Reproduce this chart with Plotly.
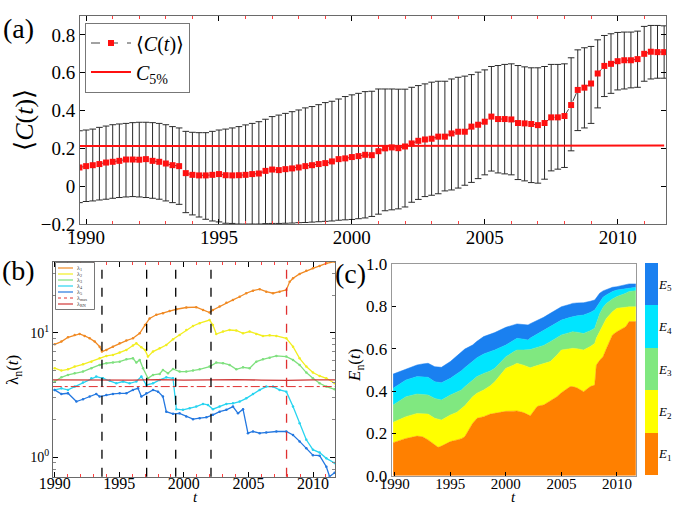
import plotly.graph_objects as go

W, H = 685, 505
SERIF = "Liberation Serif, DejaVu Serif, Times New Roman, serif"

# ---------------- panel (a) data: quarterly mean correlation ----------------
t_start, n_q = 1989.75, 89
t_a = [t_start + 0.25 * i for i in range(n_q)]
mean_c = [0.099, 0.106, 0.111, 0.117, 0.125, 0.129, 0.134, 0.141, 0.141, 0.140, 0.143, 0.134, 0.129, 0.120, 0.111, 0.106, 0.069, 0.060, 0.057, 0.057, 0.060, 0.064, 0.058,
          0.057, 0.058, 0.060, 0.064, 0.067, 0.081, 0.088, 0.085, 0.090, 0.094, 0.099, 0.106, 0.111, 0.117, 0.122, 0.131, 0.143, 0.147, 0.154, 0.159, 0.166, 0.164, 0.185,
          0.200, 0.205, 0.201, 0.210, 0.226, 0.240, 0.247, 0.251, 0.262, 0.262, 0.279, 0.288, 0.288, 0.315, 0.325, 0.341, 0.368, 0.355, 0.355, 0.353, 0.334, 0.332,
          0.329, 0.323, 0.334, 0.364, 0.364, 0.371, 0.429, 0.509, 0.521, 0.543, 0.596, 0.636, 0.647, 0.661, 0.666, 0.666, 0.672, 0.700, 0.711, 0.709, 0.709]
upper_c = [0.293, 0.297, 0.302, 0.311, 0.318, 0.325, 0.329, 0.332, 0.336, 0.338, 0.338, 0.336, 0.332, 0.325, 0.315, 0.308, 0.290, 0.285, 0.283, 0.283, 0.290, 0.297, 0.302,
           0.308, 0.315, 0.324, 0.332, 0.341, 0.354, 0.368, 0.376, 0.385, 0.394, 0.403, 0.414, 0.421, 0.431, 0.442, 0.449, 0.461, 0.474, 0.483, 0.491, 0.500, 0.502, 0.514,
           0.514, 0.514, 0.513, 0.513, 0.523, 0.532, 0.541, 0.550, 0.555, 0.555, 0.567, 0.576, 0.582, 0.590, 0.603, 0.615, 0.633, 0.638, 0.644, 0.647, 0.638, 0.631,
           0.626, 0.626, 0.633, 0.644, 0.644, 0.647, 0.679, 0.721, 0.732, 0.739, 0.774, 0.797, 0.806, 0.813, 0.815, 0.815, 0.820, 0.845, 0.850, 0.850, 0.848]
lower_c = [-0.087, -0.081, -0.078, -0.073, -0.069, -0.064, -0.060, -0.057, -0.055, -0.057, -0.060, -0.064, -0.069, -0.078, -0.087, -0.096, -0.140, -0.152, -0.163, -0.175, -0.184, -0.189, -0.196,
           -0.197, -0.200, -0.200, -0.200, -0.200, -0.198, -0.197, -0.197, -0.196, -0.195, -0.193, -0.192, -0.190, -0.188, -0.186, -0.184, -0.180, -0.178, -0.176, -0.172, -0.168, -0.160, -0.148,
           -0.130, -0.125, -0.120, -0.110, -0.085, -0.070, -0.055, -0.048, -0.040, -0.025, -0.020, -0.010, 0.005, 0.020, 0.040, 0.060, 0.080, 0.070, 0.065, 0.060, 0.035, 0.028,
           0.019, 0.016, 0.037, 0.081, 0.090, 0.099, 0.187, 0.294, 0.308, 0.332, 0.414, 0.474, 0.491, 0.509, 0.514, 0.520, 0.523, 0.555, 0.567, 0.571, 0.571]
c5 = [0.212, 0.212, 0.213, 0.213, 0.213, 0.214, 0.213, 0.213, 0.212, 0.212, 0.213, 0.213, 0.213, 0.212, 0.212, 0.212, 0.212, 0.213, 0.213, 0.212, 0.212, 0.213, 0.213,
      0.213, 0.213, 0.213, 0.213, 0.212, 0.212, 0.213, 0.213, 0.213, 0.213, 0.213, 0.212, 0.212, 0.212, 0.213, 0.213, 0.213, 0.212, 0.213, 0.213, 0.213, 0.212, 0.213,
      0.213, 0.214, 0.214, 0.213, 0.213, 0.213, 0.214, 0.214, 0.213, 0.213, 0.213, 0.213, 0.214, 0.214, 0.214, 0.213, 0.213, 0.213, 0.214, 0.214, 0.214, 0.213,
      0.213, 0.213, 0.213, 0.214, 0.214, 0.214, 0.213, 0.214, 0.215, 0.215, 0.215, 0.215, 0.215, 0.215, 0.215, 0.215, 0.216, 0.216, 0.216, 0.215, 0.215]

# ---------------- panel (b) data: eigenvalues ----------------
t_l1 = [1990.00, 1990.52, 1991.03, 1991.55, 1991.93, 1992.32, 1992.71, 1993.10, 1993.48, 1993.66, 1994.00, 1994.51, 1995.03, 1995.55, 1996.06, 1996.58,
        1996.99, 1997.35, 1997.87, 1998.38, 1998.90, 1999.42, 2000.19, 2000.96, 2001.48, 2001.99, 2002.25, 2002.77, 2003.29, 2003.80, 2004.32, 2004.83,
        2005.35, 2005.87, 2006.38, 2006.90, 2007.41, 2007.93, 2008.19, 2008.45, 2008.96, 2009.48, 2009.99, 2010.51, 2011.03, 2011.67]
lam1 = [8.06, 8.47, 9.18, 9.58, 9.75, 9.40, 9.01, 8.47, 7.72, 7.04, 7.26, 7.72, 8.21, 8.63, 9.01, 9.88,
        11.5, 13.0, 13.9, 14.3, 14.9, 15.4, 15.9, 16.0, 15.2, 14.5, 15.2, 16.2, 17.4, 18.3, 19.4, 20.7,
        21.7, 22.3, 21.3, 20.7, 21.3, 22.0, 25.6, 27.3, 29.6, 31.4, 32.8, 34.3, 36.0, 37.1]
t_l2 = [1990.00, 1990.52, 1991.03, 1991.55, 1992.19, 1992.84, 1993.48, 1994.00, 1994.51, 1995.03, 1995.55, 1996.06, 1996.32, 1996.71, 1996.99,
        1997.22, 1997.61, 1998.13, 1998.64, 1999.16, 1999.67, 2000.19, 2000.71, 2001.22, 2001.99, 2002.25, 2002.51, 2003.03, 2003.54, 2004.06,
        2004.58, 2005.09, 2005.61, 2006.12, 2006.64, 2007.16, 2007.93, 2008.45, 2008.96, 2009.48, 2009.99, 2010.51, 2011.03, 2011.67]
lam2 = [5.18, 4.96, 5.08, 5.34, 5.57, 5.85, 6.22, 6.50, 6.62, 6.92, 7.26, 7.87, 8.21, 7.63, 7.26,
        6.42, 7.04, 7.48, 7.96, 8.85, 9.58, 10.5, 11.3, 11.9, 12.6, 11.5, 9.75, 10.2, 10.5, 10.4,
        9.88, 10.2, 9.75, 9.40, 9.52, 9.40, 9.01, 7.72, 6.22, 5.34, 4.78, 4.49, 4.30, 3.92]
t_l3 = [1990.00, 1990.52, 1991.03, 1991.55, 1992.19, 1992.84, 1993.48, 1994.00, 1994.51, 1995.03, 1995.55, 1996.06, 1996.32, 1996.58, 1996.84,
        1997.22, 1997.61, 1998.13, 1998.38, 1998.77, 1999.16, 1999.67, 2000.19, 2000.71, 2001.22, 2001.99, 2002.51, 2003.03, 2003.54, 2004.06,
        2004.58, 2005.09, 2005.61, 2006.12, 2006.64, 2007.16, 2007.93, 2008.45, 2008.96, 2009.48, 2009.99, 2010.51, 2011.03, 2011.67]
lam3 = [4.05, 4.38, 4.58, 4.72, 4.87, 5.18, 5.51, 5.68, 5.75, 5.85, 6.11, 6.22, 5.75, 6.04, 5.18,
        4.30, 4.58, 4.66, 5.02, 4.72, 5.11, 4.87, 4.87, 4.96, 5.08, 5.34, 5.75, 5.68, 5.51, 5.08,
        5.27, 5.18, 5.85, 6.11, 6.30, 6.50, 6.42, 6.04, 5.51, 4.78, 4.30, 3.92, 3.69, 3.51]
t_l4 = [1990.00, 1990.52, 1991.03, 1991.55, 1992.19, 1992.84, 1993.22, 1993.74, 1994.26, 1994.77, 1995.29, 1995.80, 1996.32, 1996.71, 1997.10,
        1997.61, 1998.13, 1998.64, 1999.16, 1999.42, 1999.93, 2000.45, 2000.96, 2001.48, 2001.87, 2002.25, 2002.77, 2003.29, 2003.80, 2004.32,
        2004.83, 2005.35, 2005.87, 2006.38, 2006.90, 2007.41, 2007.93, 2008.45, 2008.96, 2009.48, 2009.99, 2010.51, 2011.03, 2011.67]
lam4 = [3.47, 3.57, 3.47, 3.69, 3.97, 4.30, 4.44, 4.30, 4.12, 3.92, 4.05, 3.92, 4.05, 4.44, 3.80,
        3.92, 4.17, 4.38, 4.30, 2.43, 2.40, 2.47, 2.55, 2.68, 2.63, 2.43, 2.55, 2.68, 2.71, 2.80,
        2.97, 3.22, 3.47, 3.69, 3.69, 3.47, 3.36, 2.55, 1.87, 1.38, 1.15, 1.09, 0.98, 0.90]
t_l5 = [1990.00, 1990.52, 1991.03, 1991.68, 1992.19, 1992.71, 1993.22, 1993.48, 1994.00, 1994.51, 1995.03, 1995.55, 1996.06, 1996.45, 1996.71,
        1997.10, 1997.61, 1998.00, 1998.38, 1998.64, 1999.16, 1999.67, 2000.19, 2000.71, 2001.22, 2001.74, 2002.25, 2002.77, 2003.29, 2003.80,
        2004.19, 2004.58, 2004.96, 2005.35, 2005.87, 2006.38, 2007.16, 2007.93, 2008.45, 2008.96, 2009.48, 2009.99, 2010.51, 2011.03, 2011.28, 2011.67]
lam5 = [3.47, 3.22, 3.26, 2.80, 2.92, 3.07, 3.22, 3.07, 3.16, 3.22, 3.26, 3.26, 3.47, 3.57, 3.07,
        3.26, 3.47, 3.36, 3.07, 2.32, 2.23, 2.25, 2.12, 2.02, 2.06, 2.09, 2.19, 2.32, 2.40, 2.55,
        2.25, 2.43, 1.56, 1.61, 1.56, 1.58, 1.61, 1.61, 1.51, 1.34, 1.18, 1.04, 1.03, 0.84, 0.70, 0.75]
t_ref = [1989.85, 1992.0, 1994.0, 1996.0, 1998.0, 2000.0, 2002.0, 2004.0, 2006.0, 2008.0, 2010.0, 2011.7]
lam_max = [3.69, 3.69, 3.69, 3.69, 3.69, 3.69, 3.69, 3.69, 3.69, 3.69, 3.69, 3.69]
lam_rn = [4.17, 4.15, 4.18, 4.16, 4.19, 4.15, 4.17, 4.20, 4.16, 4.14, 4.18, 4.17]
event_dates = [1993.66, 1997.12, 1999.37, 2002.10]
crisis_dates = [2007.95]
lam_names = ["λ<sub>1</sub>", "λ<sub>2</sub>", "λ<sub>3</sub>", "λ<sub>4</sub>", "λ<sub>5</sub>",
             "λ<sub>max</sub>", "λ<sub>RN</sub>"]

# ---------------- panel (c) data: cumulative explained variance ----------------
t_c = [1989.85, 1991.0, 1992.0, 1992.5, 1993.0, 1993.6, 1993.9, 1994.2, 1995.0, 1995.6, 1996.0, 1996.3, 1997.0, 1997.4, 1998.0,
       1998.6, 1999.0, 2000.0, 2000.7, 2001.0, 2001.6, 2002.0, 2002.2, 2002.8, 2003.0, 2003.4, 2004.0, 2004.6, 2005.0, 2005.8,
       2006.0, 2006.4, 2007.0, 2007.6, 2008.0, 2008.15, 2008.45, 2008.75, 2009.05, 2009.6, 2010.0, 2010.8, 2011.1, 2011.7]
E1 = [0.156, 0.176, 0.187, 0.184, 0.169, 0.145, 0.134, 0.140, 0.161, 0.169, 0.175, 0.184, 0.247, 0.271, 0.279,
      0.291, 0.295, 0.304, 0.305, 0.306, 0.298, 0.290, 0.283, 0.326, 0.330, 0.334, 0.354, 0.373, 0.392, 0.421,
      0.421, 0.415, 0.397, 0.421, 0.428, 0.523, 0.545, 0.562, 0.600, 0.665, 0.680, 0.704, 0.728, 0.728]
E2 = [0.252, 0.279, 0.294, 0.293, 0.291, 0.271, 0.266, 0.263, 0.287, 0.300, 0.318, 0.330, 0.373, 0.390, 0.405,
      0.425, 0.444, 0.507, 0.523, 0.531, 0.522, 0.515, 0.510, 0.520, 0.523, 0.528, 0.539, 0.570, 0.594, 0.600,
      0.602, 0.600, 0.594, 0.610, 0.625, 0.650, 0.680, 0.715, 0.743, 0.775, 0.791, 0.796, 0.798, 0.798]
E3 = [0.334, 0.373, 0.386, 0.384, 0.381, 0.365, 0.360, 0.357, 0.381, 0.395, 0.405, 0.420, 0.452, 0.468, 0.483,
      0.495, 0.507, 0.562, 0.585, 0.594, 0.594, 0.594, 0.596, 0.606, 0.609, 0.615, 0.633, 0.652, 0.665, 0.677,
      0.680, 0.678, 0.672, 0.685, 0.696, 0.720, 0.765, 0.795, 0.814, 0.835, 0.846, 0.862, 0.870, 0.874]
E4 = [0.413, 0.452, 0.468, 0.467, 0.465, 0.444, 0.441, 0.439, 0.460, 0.480, 0.496, 0.510, 0.539, 0.557, 0.575,
      0.586, 0.594, 0.617, 0.640, 0.649, 0.645, 0.641, 0.650, 0.668, 0.672, 0.683, 0.704, 0.722, 0.735, 0.748,
      0.751, 0.755, 0.759, 0.771, 0.783, 0.795, 0.825, 0.843, 0.854, 0.870, 0.877, 0.884, 0.886, 0.890]
E5 = [0.480, 0.504, 0.523, 0.528, 0.531, 0.515, 0.513, 0.512, 0.539, 0.565, 0.586, 0.598, 0.617, 0.635, 0.657,
      0.668, 0.676, 0.701, 0.713, 0.717, 0.714, 0.712, 0.718, 0.733, 0.739, 0.748, 0.767, 0.785, 0.798, 0.810,
      0.814, 0.816, 0.817, 0.824, 0.830, 0.840, 0.862, 0.873, 0.880, 0.890, 0.893, 0.903, 0.906, 0.906]
e_labels = ["<i>E</i><sub>1</sub>", "<i>E</i><sub>2</sub>", "<i>E</i><sub>3</sub>", "<i>E</i><sub>4</sub>", "<i>E</i><sub>5</sub>"]
e_share = [0.2, 0.2, 0.2, 0.2, 0.2]

year_ticks = [1990, 1995, 2000, 2005, 2010]

COL = dict(e1="#FF8000", e2="#FFFF00", e3="#80E880", e4="#00E5FF", e5="#1A80F0")
LCOL = ["#F08A24", "#F2EE20", "#7EE07E", "#28D4F0", "#2478E0"]

fig = go.Figure()

# ---- (a) ----
err_up = [u - m for u, m in zip(upper_c, mean_c)]
err_dn = [m - l for m, l in zip(mean_c, lower_c)]
fig.add_trace(go.Scatter(
    x=t_a, y=mean_c, mode="lines+markers", name="⟨<i>C</i>(<i>t</i>)⟩",
    line=dict(color="#444", width=1, dash="dash"),
    marker=dict(symbol="square", size=6, color="#FF1010"),
    error_y=dict(type="data", symmetric=False, array=err_up, arrayminus=err_dn,
                 color="#2a2a2a", thickness=1, width=3.3),
    xaxis="x", yaxis="y", legend="legend"))
fig.add_trace(go.Scatter(
    x=t_a, y=c5, mode="lines", name="<i>C</i><sub>5%</sub>",
    line=dict(color="#FF1010", width=2), xaxis="x", yaxis="y", legend="legend"))

# ---- (b) ----
lam_series = [(t_l1, lam1), (t_l2, lam2), (t_l3, lam3), (t_l4, lam4), (t_l5, lam5)]
for (tt, vv), col, nm in zip(lam_series, LCOL, lam_names):
    fig.add_trace(go.Scatter(x=tt, y=vv, mode="lines+markers", name=nm, showlegend=False,
                             line=dict(color=col, width=1.3), marker=dict(size=2.5, color=col),
                             xaxis="x2", yaxis="y2"))
fig.add_trace(go.Scatter(x=t_ref, y=lam_max, mode="lines", name=lam_names[5], showlegend=False,
                         line=dict(color="#E03030", width=1, dash="dashdot"), xaxis="x2", yaxis="y2"))
fig.add_trace(go.Scatter(x=t_ref, y=lam_rn, mode="lines", name=lam_names[6], showlegend=False,
                         line=dict(color="#D03838", width=1.3), xaxis="x2", yaxis="y2"))
for d in event_dates:
    fig.add_vline(x=d, line=dict(color="black", width=1.3, dash="dash"), xref="x2", yref="y2")
for d in crisis_dates:
    fig.add_vline(x=d, line=dict(color="#E03030", width=1.3, dash="dash"), xref="x2", yref="y2")

# small hand-built legend for panel (b) (plotly legend rows cannot be this small)
leg_styles = [dict(color=c, width=1.2) for c in LCOL] + [
    dict(color="#E03030", width=1, dash="dot"), dict(color="#D03838", width=1.2)]
lx0, lx1, ltop, lrow = 55.5, 94.5, 262.5, 6.0
fig.add_shape(type="rect", xref="paper", yref="paper",
              x0=lx0 / W, x1=lx1 / W, y0=1 - (ltop + 47) / H, y1=1 - ltop / H,
              line=dict(color="#555", width=0.8), fillcolor="white", layer="above")
leg_annots = []
for k, (nm, st) in enumerate(zip(lam_names, leg_styles)):
    yy = 1 - (ltop + 5.5 + k * lrow) / H
    fig.add_shape(type="line", xref="paper", yref="paper", x0=58 / W, x1=73 / W, y0=yy, y1=yy,
                  line=st, layer="above")
    leg_annots.append(dict(text=nm, x=75 / W, y=yy, xref="paper", yref="paper", xanchor="left",
                           yanchor="middle", showarrow=False,
                           font=dict(family=SERIF, size=6, color="#333")))

# ---- (c) ----
layers = [(E1, COL["e1"], "tozeroy"), (E2, COL["e2"], "tonexty"), (E3, COL["e3"], "tonexty"),
          (E4, COL["e4"], "tonexty"), (E5, COL["e5"], "tonexty")]
for vals, col, fill in layers:
    fig.add_trace(go.Scatter(x=t_c, y=vals, mode="lines", fill=fill, fillcolor=col,
                             line=dict(color=col, width=0.5), showlegend=False,
                             xaxis="x3", yaxis="y3"))
bar_cols = [COL["e1"], COL["e2"], COL["e3"], COL["e4"], COL["e5"]]
for lab, s, col in zip(e_labels, e_share, bar_cols):
    fig.add_trace(go.Bar(x=[0], y=[s], marker=dict(color=col, line=dict(width=0)), width=1,
                         showlegend=False, xaxis="x4", yaxis="y4"))

frame = "#6a6a6a"
tickfont_a = dict(family=SERIF, size=19, color="black")
tickfont_b = dict(family=SERIF, size=16, color="black")


def label(text, px, py, size, angle=0):
    return dict(text=text, x=px / W, y=1 - py / H, xref="paper", yref="paper",
                xanchor="center", yanchor="middle", textangle=angle, showarrow=False,
                font=dict(family=SERIF, size=size, color="black"))


fig.update_layout(
    width=W, height=H, margin=dict(l=0, r=0, t=0, b=0, autoexpand=False),
    paper_bgcolor="white", plot_bgcolor="white", barmode="stack", bargap=0,
    xaxis=dict(domain=[80 / W, 666 / W], anchor="y", range=[1989.77, 2011.82], automargin=False,
               tickvals=year_ticks, ticks="inside", ticklen=5, tickcolor="black",
               showline=True, linecolor=frame, mirror="ticks", showgrid=False, zeroline=False,
               tickfont=tickfont_a, ticklabelstandoff=-4,
               minor=dict(dtick=1, ticks="inside", ticklen=3, tickcolor="#FF4040")),
    yaxis=dict(domain=[1 - 224 / H, 1 - 16 / H], anchor="x", range=[-0.2, 0.9], automargin=False,
               tickvals=[-0.2, 0, 0.2, 0.4, 0.6, 0.8], ticktext=["−0.2", "0", "0.2", "0.4", "0.6", "0.8"],
               ticks="inside", ticklen=5, tickcolor="black", showline=True, linecolor=frame,
               mirror="ticks", showgrid=False, zeroline=False, tickfont=tickfont_a),
    xaxis2=dict(domain=[53 / W, 335 / W], anchor="y2", range=[1989.87, 2011.7], automargin=False,
                tickvals=year_ticks, ticks="inside", ticklen=5, tickcolor="black",
                showline=True, linecolor=frame, mirror="ticks", showgrid=False, zeroline=False,
                tickfont=tickfont_b, ticklabelstandoff=-8,
                minor=dict(dtick=1, ticks="inside", ticklen=3, tickcolor="#FF4040")),
    yaxis2=dict(domain=[1 - 476.7 / H, 1 - 261.7 / H], anchor="x2", type="log", range=[-0.156, 1.569],
                automargin=False,
                tickvals=[1, 10], ticktext=["10<sup>0</sup>", "10<sup>1</sup>"],
                ticks="inside", ticklen=5, tickcolor="black", showline=True, linecolor=frame,
                mirror="ticks", showgrid=False, zeroline=False, tickfont=dict(family=SERIF, size=14, color="black"),
                minor=dict(ticks="inside", ticklen=3, tickcolor="#888", tickvals=[0.8, 0.9, 2, 3, 4, 5, 6, 7, 8, 9, 20, 30])),
    xaxis3=dict(domain=[391.7 / W, 636 / W], anchor="y3", range=[1989.72, 2011.72], automargin=False,
                tickvals=year_ticks, ticks="inside", ticklen=4, tickcolor="black",
                showline=True, linecolor="#999", mirror=True, showgrid=False, zeroline=False,
                tickfont=dict(family=SERIF, size=15, color="black"), ticklabelstandoff=-6),
    yaxis3=dict(domain=[1 - 475.7 / H, 1 - 264 / H], anchor="x3", range=[0, 1.0], automargin=False,
                tickvals=[0, 0.2, 0.4, 0.6, 0.8, 1.0], tickformat=".1f",
                ticks="inside", ticklen=4, tickcolor="black", showline=True, linecolor="#999",
                mirror=True, showgrid=False, zeroline=False, tickfont=dict(family=SERIF, size=17, color="black")),
    xaxis4=dict(domain=[645 / W, 658 / W], anchor="y4", range=[-0.5, 0.5], visible=False, automargin=False),
    yaxis4=dict(domain=[1 - 475 / H, 1 - 263 / H], anchor="x4", range=[0, 1], side="right", automargin=False,
                tickvals=[0.1, 0.3, 0.5, 0.7, 0.9], ticktext=e_labels, ticks="",
                showline=False, showgrid=False, zeroline=False,
                tickfont=dict(family=SERIF, size=13, color="black")),
    legend=dict(x=85 / W, y=1 - 22.5 / H, xanchor="left", yanchor="top", traceorder="normal",
                bgcolor="white", bordercolor="#777", borderwidth=1,
                font=dict(family=SERIF, size=20, color="black"), tracegroupgap=0,
                itemwidth=40),
    annotations=leg_annots + [
        label("(a)", 18, 28, 28),
        label("(b)", 18, 270, 28),
        label("(c)", 350, 273, 28),
        label("⟨<i>C</i>(<i>t</i>)⟩", 24, 120, 26, -90),
        label("λ<sub>n</sub>(<i>t</i>)", 14, 370, 17, -90),
        label("<i>t</i>", 195, 497, 15),
        label("<i>E</i><sub>n</sub>(<i>t</i>)", 356, 366, 17, -90),
        label("<i>t</i>", 513, 497, 15),
    ],
)

# the page's default 8px body margin would shift the figure; remove it
fig.write_html("out.html", config={"displayModeBar": False},
               post_script="document.body.style.margin='0';document.body.style.overflow='hidden';")
